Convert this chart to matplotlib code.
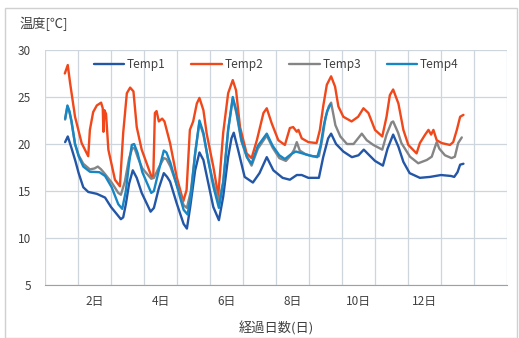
import matplotlib
matplotlib.use("Agg")
import matplotlib.pyplot as plt
from matplotlib.patches import Rectangle

plt.rcParams['font.family'] = ['Noto Sans CJK JP', 'DejaVu Sans']

# elapsed days / temperature [deg C]
t1_days = [1.11, 1.19, 1.30, 1.42, 1.52, 1.66, 1.81, 2.07, 2.32, 2.50, 2.80, 2.87, 2.95, 3.05,
           3.16, 3.28, 3.43, 3.70, 3.80, 3.95, 4.10, 4.20, 4.29, 4.49, 4.70, 4.80, 4.90, 5.05,
           5.18, 5.30, 5.45, 5.60, 5.77, 5.90, 6.05, 6.15, 6.22, 6.35, 6.55, 6.80, 7.00, 7.22,
           7.42, 7.70, 7.92, 8.13, 8.28, 8.48, 8.80, 8.93, 9.08, 9.17, 9.32, 9.54, 9.80, 10.00,
           10.16, 10.30, 10.50, 10.74, 10.88, 11.05, 11.21, 11.36, 11.55, 11.86, 12.17, 12.50,
           12.80, 12.90, 13.00, 13.08, 13.18]
t1_vals = [20.2, 20.8, 19.6, 18.2, 16.9, 15.4, 14.9, 14.7, 14.3, 13.3, 12.0, 12.2, 13.6, 15.8,
           17.2, 16.4, 14.8, 12.8, 13.2, 15.3, 16.9, 16.5, 16.0, 13.7, 11.5, 11.0, 13.3, 17.2,
           19.1, 18.3, 15.8, 13.3, 11.9, 14.4, 18.6, 20.6, 21.2, 19.4, 16.5, 15.9, 16.9, 18.6,
           17.2, 16.4, 16.2, 16.7, 16.7, 16.4, 16.4, 18.6, 20.6, 21.1, 20.0, 19.2, 18.6, 18.8,
           19.4, 18.9, 18.2, 17.7, 19.5, 21.0, 19.7, 18.1, 16.9, 16.4, 16.5, 16.7,
           16.6, 16.5, 17.0, 17.8, 17.9]

t2_days = [1.10, 1.19, 1.26, 1.41, 1.61, 1.81, 1.86, 1.96, 2.07, 2.20, 2.25, 2.27, 2.30, 2.35,
           2.42, 2.62, 2.77, 2.87, 2.98, 3.08, 3.18, 3.28, 3.43, 3.73, 3.78, 3.83, 3.88, 3.95,
           4.05, 4.12, 4.29, 4.49, 4.69, 4.79, 4.89, 4.99, 5.10, 5.18, 5.30, 5.40, 5.60, 5.75,
           5.90, 6.05, 6.19, 6.29, 6.41, 6.61, 6.76, 6.92, 7.12, 7.22, 7.37, 7.57, 7.77, 7.92,
           8.02, 8.13, 8.18, 8.28, 8.48, 8.73, 8.83, 8.93, 9.04, 9.17, 9.29, 9.39, 9.54, 9.79,
           9.99, 10.15, 10.30, 10.50, 10.72, 10.85, 10.95, 11.05, 11.21, 11.36, 11.51, 11.76,
           11.86, 12.02, 12.12, 12.20, 12.27, 12.37, 12.52, 12.77, 12.87, 12.98, 13.08, 13.18]
t2_vals = [27.5, 28.4, 26.5, 22.9, 20.1, 18.7, 21.5, 23.4, 24.1, 24.4, 23.8, 21.3, 23.6, 23.2,
           19.4, 16.2, 15.5, 21.2, 25.4, 26.0, 25.6, 21.8, 19.4, 16.5, 16.4, 23.3, 23.5, 22.4,
           22.7, 22.4, 20.1, 16.5, 13.9, 15.1, 21.5, 22.4, 24.3, 24.9, 23.6, 21.1, 17.6, 14.5,
           21.2, 25.4, 26.8, 25.7, 21.8, 19.0, 18.5, 20.4, 23.3, 23.8, 22.2, 20.4, 19.9, 21.7,
           21.8, 21.3, 21.5, 20.6, 20.2, 20.1, 21.5, 24.0, 26.3, 27.2, 26.1, 24.0, 22.9, 22.4,
           22.9, 23.8, 23.3, 21.5, 20.8, 22.9, 25.2, 25.8, 24.3, 21.5, 19.9, 19.0,
           20.1, 21.0, 21.5, 21.0, 21.5, 20.4, 20.1, 19.9, 20.2, 21.5, 22.9, 23.1]

t3_days = [1.11, 1.18, 1.24, 1.30, 1.41, 1.52, 1.66, 1.86, 2.00, 2.10, 2.20, 2.32, 2.52, 2.72,
           2.80, 2.92, 3.05, 3.15, 3.22, 3.32, 3.45, 3.72, 3.80, 3.95, 4.10, 4.18, 4.30, 4.50,
           4.70, 4.80, 4.92, 5.05, 5.18, 5.30, 5.45, 5.60, 5.77, 5.90, 6.05, 6.19, 6.30, 6.45,
           6.62, 6.76, 6.95, 7.22, 7.40, 7.60, 7.80, 7.95, 8.05, 8.13, 8.22, 8.40, 8.60, 8.80,
           8.90, 9.00, 9.10, 9.17, 9.30, 9.45, 9.65, 9.85, 10.10, 10.25, 10.45, 10.72, 10.85,
           11.00, 11.05, 11.20, 11.30, 11.56, 11.81, 12.07, 12.22, 12.32, 12.37, 12.45, 12.62,
           12.82, 12.92, 13.02, 13.13]
t3_vals = [22.6, 24.0, 23.4, 22.4, 20.0, 18.8, 17.9, 17.3, 17.4, 17.6, 17.3, 16.8, 15.9, 14.8,
           14.6, 16.0, 18.5, 19.6, 19.5, 18.5, 17.4, 16.3, 16.4, 17.5, 18.5, 18.4, 17.6, 15.6,
           13.5, 13.2, 15.0, 19.0, 22.3, 21.0, 18.2, 15.9, 13.9, 16.0, 21.5, 24.8, 23.3, 20.3,
           18.6, 17.7, 19.5, 20.9, 19.6, 18.5, 18.2, 18.8, 19.4, 20.2, 19.3, 18.9, 18.7, 18.7,
           20.5, 22.8, 24.0, 24.4, 22.0, 20.8, 20.0, 20.0, 21.1, 20.4, 19.9, 19.4, 21.0,
           22.3, 22.4, 21.2, 20.1, 18.65, 17.95, 18.3, 18.65, 19.7, 20.2, 19.5, 18.8,
           18.5, 18.65, 20.1, 20.7]

t4_days = [1.11, 1.18, 1.24, 1.30, 1.41, 1.52, 1.66, 1.86, 2.15, 2.32, 2.52, 2.72, 2.84, 2.95,
           3.05, 3.13, 3.20, 3.30, 3.45, 3.72, 3.80, 3.95, 4.10, 4.18, 4.30, 4.50, 4.70, 4.82,
           4.92, 5.05, 5.18, 5.30, 5.45, 5.60, 5.77, 5.90, 6.05, 6.19, 6.30, 6.45, 6.62, 6.76,
           6.95, 7.22, 7.40, 7.60, 7.77, 7.95, 8.10, 8.30, 8.50, 8.75, 8.85, 8.95, 9.05, 9.15]
t4_vals = [22.7, 24.1, 23.5, 22.5, 20.0, 18.7, 17.6, 17.05, 17.0, 16.6, 15.4, 13.6, 13.1, 15.0,
           18.0, 19.9, 20.0, 19.1, 17.0, 14.8, 15.0, 17.2, 19.3, 19.1, 18.0, 15.5, 13.0, 12.5,
           14.5, 19.0, 22.5, 21.2, 18.2, 15.5, 13.2, 15.8, 21.5, 25.0, 23.5, 20.5, 18.6, 17.9,
           19.8, 21.1, 19.8, 18.8, 18.4, 18.9, 19.2, 19.0, 18.8, 18.6, 19.8, 22.0, 23.5, 24.2]

names = ['Temp1', 'Temp2', 'Temp3', 'Temp4']
colors = ['#2356a6', '#f0481a', '#858585', '#1786c4']
day_ticks = [2, 4, 6, 8, 10, 12]
day_labels = ['2日', '4日', '6日', '8日', '10日', '12日']

fig = plt.figure(figsize=(5.19, 3.38), dpi=100)
# light frame round the whole chart
fig.patches.append(Rectangle((5 / 519, 0), 512 / 519, 330 / 338, transform=fig.transFigure,
                             fill=False, edgecolor='#d0d0d0', linewidth=1))
ax = fig.add_axes([45 / 519, 53 / 338, 462 / 519, 235 / 338])

series = [(t1_days, t1_vals), (t2_days, t2_vals), (t3_days, t3_vals), (t4_days, t4_vals)]
for (d, v), n, c in zip(series, names, colors):
    ax.plot(d, v, color=c, linewidth=1.7, label=n,
            solid_joinstyle='round', solid_capstyle='round')

ax.set_xlim(0.5, 14.5)
ax.set_ylim(5, 30)
ax.set_yticks(range(5, 31, 5))
ax.set_xticks([k + 0.5 for k in range(0, 15)], minor=True)
ax.set_xticks(day_ticks)
ax.set_xticklabels(day_labels)
ax.grid(True, which='minor', axis='x', color='#cfd5dc', linewidth=0.9)
ax.grid(True, which='major', axis='y', color='#cfd5dc', linewidth=0.9)
ax.tick_params(which='both', length=0, colors='#404040', labelsize=8.5)
ax.tick_params(axis='y', pad=10)
ax.tick_params(axis='x', pad=7)
for s in ['left', 'right', 'top']:
    ax.spines[s].set_visible(False)
ax.spines['bottom'].set_color('#a0a0a0')

ax.set_xlabel('経過日数(日)', fontsize=9.5, color='#404040', labelpad=10)
fig.text(19 / 519, 1 - 24 / 338, '温度[℃]', fontsize=9.5, color='#404040', va='center')

ax.legend(loc='upper center', bbox_to_anchor=(0.5, 1.01), ncol=4, frameon=False,
          fontsize=8.5, handlelength=2.6, columnspacing=2.2, handletextpad=0.2,
          labelcolor='#404040')

fig.savefig('out.png', dpi=100)
